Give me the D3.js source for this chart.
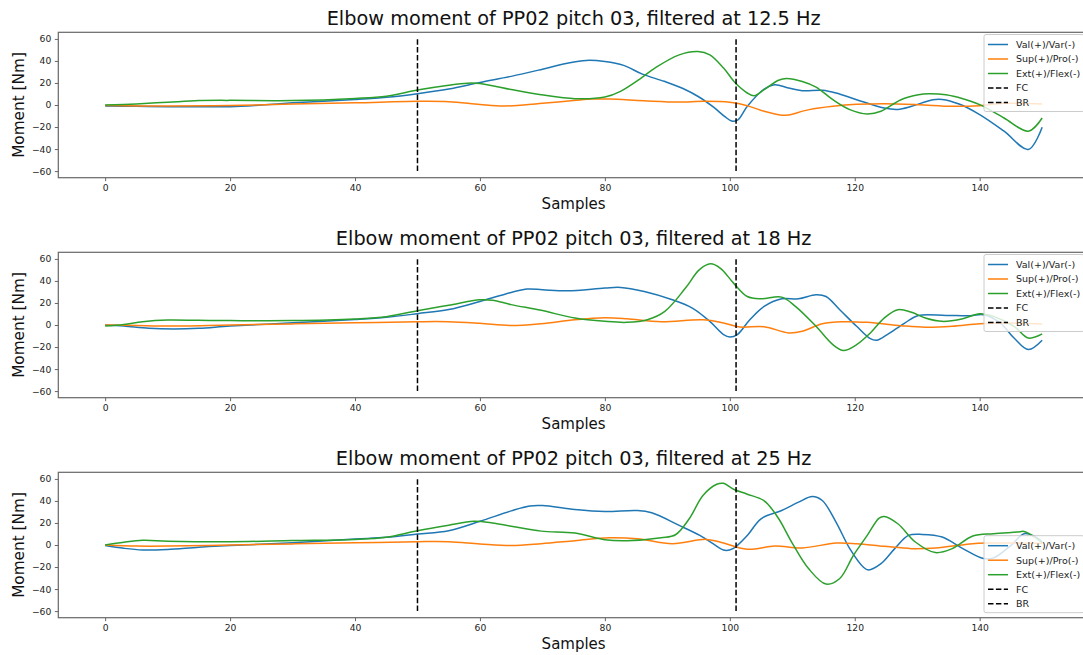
<!DOCTYPE html>
<html>
<head>
<meta charset="utf-8">
<script src="https://cdn.jsdelivr.net/npm/d3@7"></script>
<style>
  body { margin: 0; background: #fff; }
  svg { display: block; font-family: "DejaVu Sans", sans-serif; }
</style>
</head>
<body>
<svg id="chart" width="1083" height="655"></svg>
<script>
// ---------- data ----------
const titles = [
  "Elbow moment of PP02 pitch 03, filtered at 12.5 Hz",
  "Elbow moment of PP02 pitch 03, filtered at 18 Hz",
  "Elbow moment of PP02 pitch 03, filtered at 25 Hz"
];
const seriesNames = ["Val(+)/Var(-)", "Sup(+)/Pro(-)", "Ext(+)/Flex(-)"];
const seriesColors = ["#1f77b4", "#ff7f0e", "#2ca02c"];
const eventNames = ["FC", "BR"];
const eventSamples = [50, 101];
const eventRange = [-60, 60];
const xTicks = [0, 20, 40, 60, 80, 100, 120, 140];
const yTicks = [-60, -40, -20, 0, 20, 40, 60];
const xLabel = "Samples";
const yLabel = "Moment [Nm]";

// 12.5 Hz
const val125 = [[0,-1],[5,-1.2],[10,-1.5],[20,-1.5],[25,0],[30,2],[35,3.5],[40,5],[45,7],[50,10.3],[55,14.5],[60,20.5],[65,26],[70,32.5],[74,38],[77,40.5],[80,39.5],[83,36],[86,28],[89.5,21.5],[92.5,15],[95,7.5],[97.4,-2],[99.2,-10.5],[100.3,-14.5],[101.3,-13.5],[102.8,-1.2],[105.5,14.5],[107.2,18.4],[109.4,15.4],[111.6,13],[114.8,13.3],[117,10.9],[120.3,4.8],[124.7,-2.7],[126.9,-4],[129.1,-1.2],[132.5,4.8],[134,5.1],[136.7,0.9],[140,-8.7],[143.9,-23.8],[147.8,-40.4],[150,-20.2]];
const sup125 = [[0,-0.5],[10,-1],[20,-0.5],[30,1],[40,2],[50,3.3],[55,3],[60,0.5],[63.7,-0.9],[67,0],[70,1.5],[75,4],[78,5.4],[80.7,5.4],[86.2,3.9],[91.7,2.7],[96,3.3],[100,2.4],[102.8,-0.6],[105.5,-5.7],[108.3,-9.3],[109.4,-9],[112.7,-4.2],[116.5,-1.2],[120.3,0.6],[124.7,1.2],[130.2,0.3],[135.6,-1.2],[140,-0.6],[143.9,1.5],[150,1]];
const ext125 = [[0,0],[5,1],[10,2.5],[15,4],[20,4.2],[30,4],[40,6],[45,8],[50,13.6],[55,18],[58,19.8],[60,19.5],[65,14],[69.8,9.3],[75.2,5.7],[80,7.2],[82.5,12.4],[85.8,24.4],[88,33.5],[91.9,45.5],[94.9,48.5],[96.8,45.5],[99,33.5],[100.9,19.9],[102.8,10.9],[103.9,8.4],[105.5,13.9],[107.8,22.5],[109.1,24.1],[111.6,21.4],[113.8,16.3],[116.5,4.8],[119.2,-4.2],[122,-8.1],[124.2,-5.7],[127.4,4.8],[130.2,9.3],[131.8,10.3],[134.6,9.3],[137.3,5.7],[140,0.3],[143.9,-11.8],[147.8,-23.8],[150,-11.8]];

// 18 Hz
const val18 = [[0,0],[3,-1],[7,-3],[11,-3.6],[15,-3],[20,-1],[30,2],[40,5],[45,7],[50,10.3],[55,14],[60,21.4],[64,28],[67.5,32.6],[70,32],[74,31],[80,33.5],[82.5,34.1],[86.3,30.4],[90.8,22.9],[94,15.4],[96.8,3.3],[99,-8.7],[100,-10.9],[101.2,-8.7],[103.2,4.8],[105.5,16.9],[108.3,23.8],[111,23.8],[113.8,27.4],[115.4,25.9],[117.6,13.9],[120.3,-1.2],[122.5,-12.4],[123.5,-13.9],[125.2,-8.7],[128,1.8],[130.2,8.7],[134.6,8.7],[138.5,8.4],[140.6,9.3],[143.3,1.8],[145.5,-11.8],[147.8,-22.3],[150,-13.9]];
const sup18 = [[0,0],[5,-0.5],[10,-1],[20,0],[30,1],[40,2],[50,3],[55,3],[60,1.5],[65,-0.5],[69.8,1.2],[75.2,4.8],[80,6.6],[83.5,5.7],[89,3],[95.7,4.8],[99,1.8],[101.6,-1.8],[105.5,-1.5],[109.4,-7.2],[111.6,-5.7],[114.8,1.2],[118.2,3],[122,2.4],[127.4,-0.6],[131.3,-2.1],[135.6,-1.2],[140,1.2],[143.9,1.8],[150,0.9]];
const ext18 = [[0,-1],[3,0.5],[6,3],[10,4.5],[15,4.2],[20,4],[30,4],[40,5.5],[45,7.5],[50,13],[55,18],[60,22.9],[62,22.5],[65,18.5],[69.8,13.3],[75.2,6.3],[80,3.3],[83.5,2.4],[86.8,4.8],[89.6,12.4],[92.9,33.5],[95.1,50],[96.9,55.5],[98.5,51.5],[100.6,38],[102.8,25.9],[105,23.8],[108.3,25.3],[110.5,16.9],[113.8,-1.2],[116.5,-17.8],[118.2,-23.2],[120.3,-17.8],[122.5,-7.2],[124.7,6.3],[126.9,13.9],[129.1,11.5],[131.3,6.3],[134,3.3],[137.3,5.7],[140,10.3],[142.2,7.8],[145.5,-1.2],[147.8,-11.8],[150,-8.1]];

// 25 Hz
const val25 = [[0,-0.5],[3,-3],[6,-4.5],[10,-4],[15,-2],[20,-0.5],[30,2],[40,5.4],[45,7],[50,9.9],[55,13],[60,21.5],[65,31],[68,35.5],[70,35.8],[75.2,32.2],[80,30.4],[85.2,31.3],[87.5,29.2],[91.9,17.8],[95.2,8.7],[97.3,1.2],[99.2,-4.8],[100.5,-3.3],[102.8,8.7],[105,23.8],[108.3,31.3],[111,38.9],[113.2,44],[114.8,40.4],[117,20.8],[119.2,-3.3],[121.4,-20.2],[122.2,-22.6],[124.2,-16.9],[126.4,-3.3],[128.6,8.7],[130.8,9.6],[134,7.2],[137.3,-3.3],[140.6,-12.3],[142.2,-11.7],[145,-0.3],[147.1,10.2],[148.8,7.8],[150,3]];
const sup25 = [[0,0],[5,-1],[10,-1],[20,0],[30,1],[40,2],[50,3],[55,3],[60,1],[65,-0.5],[69.8,1.2],[75.2,3.9],[80.7,6.6],[85.2,5.7],[90.8,1.2],[96.2,5.1],[98.4,2.7],[102.8,-3.9],[107.2,-0.9],[111.6,-2.7],[117,1.8],[120.3,1.2],[124.7,-1.2],[129.1,-3.3],[132.9,-2.7],[138.4,0.9],[141.1,1.8],[150,1.5]];
const ext25 = [[0,0],[3,2.5],[6,4.2],[10,3.5],[20,3],[30,4],[40,5],[45,7],[50,13],[55,18],[59,21.5],[62,20],[65,17],[69.8,12.6],[75.2,10.8],[80,4.8],[83.5,3.9],[89,6.6],[91.3,9.3],[93.5,23.8],[95.7,44.9],[97.9,55.1],[99,56],[100.6,50.6],[102.8,46.1],[105.5,40.1],[107.7,25],[109.9,2.7],[112.6,-21.4],[115.4,-35.5],[117.6,-30.4],[119.8,-9.3],[122,8.7],[123.9,24.4],[124.7,25.9],[126.9,19.3],[129.7,2.7],[132.9,-6.9],[135.6,-3.3],[138.9,8.1],[142.2,10.2],[146,11.7],[147.1,12.3],[148.8,7.2],[150,2]];

const panelSeries = [[val125, sup125, ext125], [val18, sup18, ext18], [val25, sup25, ext25]];
const legendCorner = ["top", "top", "bottom"];

// ---------- layout ----------
const svg = d3.select("#chart");
const left = 58.3, right = 1089;
const panels = [
  {top: 32.3, bottom: 177.7},
  {top: 252.3, bottom: 397.7},
  {top: 472.3, bottom: 617.7}
];
const x = d3.scaleLinear().domain([-7.5, 157.5]).range([left, right]);
const fmt = d3.format("d");

panels.forEach((p, i) => {
  const y = d3.scaleLinear().domain([-66, 66]).range([p.bottom, p.top]);
  const g = svg.append("g");

  // series lines
  const line = d3.line().x(d => x(d[0])).y(d => y(d[1])).curve(d3.curveCatmullRom.alpha(0.5));
  panelSeries[i].forEach((s, k) => {
    g.append("path").datum(s).attr("d", line)
      .attr("fill", "none").attr("stroke", seriesColors[k])
      .attr("stroke-width", 1.5).attr("stroke-linejoin", "round");
  });

  // event lines
  eventSamples.forEach(ev => {
    g.append("line")
      .attr("x1", x(ev)).attr("x2", x(ev))
      .attr("y1", y(eventRange[0])).attr("y2", y(eventRange[1]))
      .attr("stroke", "#000").attr("stroke-width", 1.5)
      .attr("stroke-dasharray", "5.5,2.4");
  });

  // axes
  const xa = g.append("g").attr("transform", `translate(0,${p.bottom})`)
    .call(d3.axisBottom(x).tickValues(xTicks).tickFormat(fmt).tickSize(3.5).tickPadding(3.5));
  const ya = g.append("g").attr("transform", `translate(${left},0)`)
    .call(d3.axisLeft(y).tickValues(yTicks).tickFormat(d3.format("")).tickSize(3.5).tickPadding(3.5));
  [xa, ya].forEach(a => {
    a.select(".domain").remove();
    a.selectAll(".tick line").attr("stroke", "#555").attr("stroke-width", 0.9);
    a.selectAll(".tick text").attr("fill", "#222").style("font-size", "9.2px")
      .style("font-family", "DejaVu Sans, sans-serif");
  });

  // frame
  g.append("rect").attr("x", left).attr("y", p.top)
    .attr("width", right - left).attr("height", p.bottom - p.top)
    .attr("fill", "none").attr("stroke", "#666").attr("stroke-width", 1.2);

  // title and labels
  g.append("text").attr("x", (left + right) / 2).attr("y", p.top - 7)
    .attr("text-anchor", "middle").attr("fill", "#111")
    .style("font-size", "19.3px").text(titles[i]);
  g.append("text").attr("x", (left + right) / 2).attr("y", p.bottom + 31)
    .attr("text-anchor", "middle").attr("fill", "#111")
    .style("font-size", "15px").text(xLabel);
  g.append("text")
    .attr("transform", `translate(24,${(p.top + p.bottom) / 2}) rotate(-90)`)
    .attr("text-anchor", "middle").attr("fill", "#111")
    .style("font-size", "15.3px").text(yLabel);

  // legend
  const lw = 100, lh = 77;
  const lx = right - 5 - lw;
  const ly = legendCorner[i] === "top" ? p.top + 2.2 : p.bottom - 5 - lh;
  const lg = g.append("g");
  lg.append("rect").attr("x", lx).attr("y", ly).attr("width", lw).attr("height", lh)
    .attr("rx", 2).attr("fill", "#fff").attr("fill-opacity", 0.8)
    .attr("stroke", "#ccc").attr("stroke-width", 1);
  const entries = seriesNames.map((n, k) => ({name: n, color: seriesColors[k], dash: null}))
    .concat(eventNames.map(n => ({name: n, color: "#000", dash: "5.5,2.4"})));
  entries.forEach((e, k) => {
    const ey = ly + 10 + k * 14.5;
    lg.append("line").attr("x1", lx + 4).attr("x2", lx + 24).attr("y1", ey).attr("y2", ey)
      .attr("stroke", e.color).attr("stroke-width", 1.5)
      .attr("stroke-dasharray", e.dash);
    lg.append("text").attr("x", lx + 32).attr("y", ey).attr("dy", "0.35em")
      .attr("fill", "#222").style("font-size", "9.5px").text(e.name);
  });
});
</script>
</body>
</html>
